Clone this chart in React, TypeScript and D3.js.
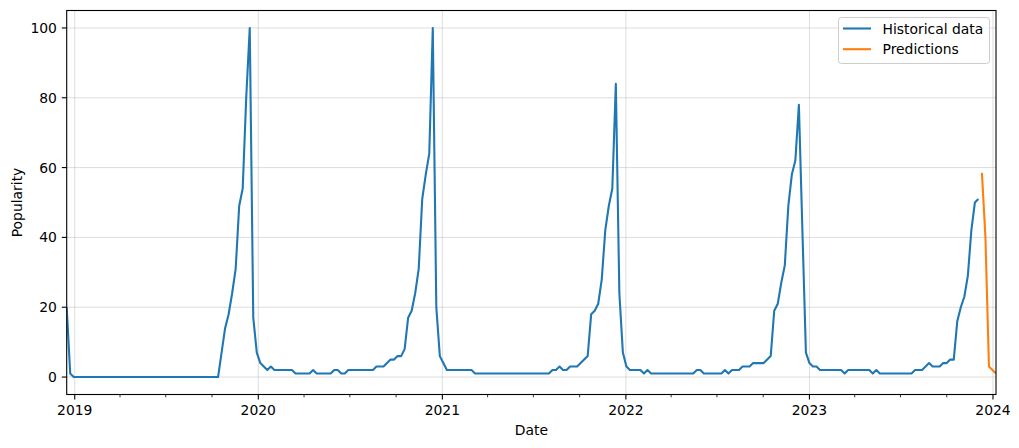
import React from "react";
import * as d3 from "d3";

// Weekly dates start (Sundays)
const START_DATE = "2018-12-16";
const PRED_START = "2023-12-10";

const historical: number[] = [
  20, 1, 0, 0, 0, 0, 0, 0, 0, 0,
  0, 0, 0, 0, 0, 0, 0, 0, 0, 0,
  0, 0, 0, 0, 0, 0, 0, 0, 0, 0,
  0, 0, 0, 0, 0, 0, 0, 0, 0, 0,
  0, 0, 0, 0, 7, 14, 18, 24, 31, 49,
  54, 80, 100, 17, 7, 4, 3, 2, 3, 2,
  2, 2, 2, 2, 2, 1, 1, 1, 1, 1,
  2, 1, 1, 1, 1, 1, 2, 2, 1, 1,
  2, 2, 2, 2, 2, 2, 2, 2, 3, 3,
  3, 4, 5, 5, 6, 6, 8, 17, 19, 24,
  31, 51, 58, 64, 100, 20, 6, 4, 2, 2,
  2, 2, 2, 2, 2, 2, 1, 1, 1, 1,
  1, 1, 1, 1, 1, 1, 1, 1, 1, 1,
  1, 1, 1, 1, 1, 1, 1, 1, 2, 2,
  3, 2, 2, 3, 3, 3, 4, 5, 6, 18,
  19, 21, 28, 42, 49, 54, 84, 24, 7, 3,
  2, 2, 2, 2, 1, 2, 1, 1, 1, 1,
  1, 1, 1, 1, 1, 1, 1, 1, 1, 2,
  2, 1, 1, 1, 1, 1, 1, 2, 1, 2,
  2, 2, 3, 3, 3, 4, 4, 4, 4, 5,
  6, 19, 21, 27, 32, 49, 58, 62, 78, 42,
  7, 4, 3, 3, 2, 2, 2, 2, 2, 2,
  2, 1, 2, 2, 2, 2, 2, 2, 2, 1,
  2, 1, 1, 1, 1, 1, 1, 1, 1, 1,
  1, 2, 2, 2, 3, 4, 3, 3, 3, 4,
  4, 5, 5, 16, 20, 23, 29, 42, 50, 51,
];

const predictions: number[] = [58.5, 40, 3, 2, 1];

const yTicks: number[] = [0, 20, 40, 60, 80, 100];
const xTickYears: number[] = [2019, 2020, 2021, 2022, 2023, 2024];

const seriesNames = ["Historical data", "Predictions"];
const seriesColors = ["#1f77b4", "#ff7f0e"];

const W = 1019;
const H = 448;
const M = { left: 66.7, right: 996, top: 10.5, bottom: 394.5 };
const FONT = "DejaVu Sans, sans-serif";
const FS = 13.9;

export default function App() {
  const parse = d3.timeParse("%Y-%m-%d");
  const start = parse(START_DATE)!;
  const pStart = parse(PRED_START)!;
  const histData = historical.map((v, i) => ({ date: d3.timeWeek.offset(start, i), v }));
  const predData = predictions.map((v, i) => ({ date: d3.timeWeek.offset(pStart, i), v }));

  const x = d3
    .scaleTime()
    .domain([histData[0].date, predData[predData.length - 1].date])
    .range([M.left, M.right]);
  const y = d3.scaleLinear().domain([-5, 105]).range([M.bottom, M.top]);

  const line = d3
    .line<{ date: Date; v: number }>()
    .x((d) => x(d.date))
    .y((d) => y(d.v));

  const majorTicks = xTickYears.map((yr) => new Date(yr, 0, 1));
  const minorTicks = d3
    .timeMonth.every(3)!
    .range(x.domain()[0], x.domain()[1])
    .filter((d) => d.getMonth() !== 0);

  return (
    <svg
      width={W}
      height={H}
      style={{ position: "absolute", left: 0, top: 0, display: "block", background: "#fff" }}
      fontFamily={FONT}
    >
      <defs>
        <clipPath id="plotclip">
          <rect x={M.left} y={M.top} width={M.right - M.left} height={M.bottom - M.top} />
        </clipPath>
      </defs>
      <rect x={0} y={0} width={W} height={H} fill="#fff" />
      {/* grid */}
      <g stroke="#b0b0b0" strokeOpacity={0.55} strokeWidth={0.8}>
        {yTicks.map((t) => (
          <line key={"gy" + t} x1={M.left} x2={M.right} y1={y(t)} y2={y(t)} />
        ))}
        {majorTicks.map((d, i) => (
          <line key={"gx" + i} x1={x(d)} x2={x(d)} y1={M.top} y2={M.bottom} />
        ))}
      </g>
      {/* lines */}
      <g clipPath="url(#plotclip)" fill="none" strokeWidth={2.1} strokeLinejoin="round" strokeLinecap="butt">
        <path d={line(histData) || ""} stroke={seriesColors[0]} />
        <path d={line(predData) || ""} stroke={seriesColors[1]} />
      </g>
      {/* frame */}
      <rect
        x={M.left}
        y={M.top}
        width={M.right - M.left}
        height={M.bottom - M.top}
        fill="none"
        stroke="#000"
        strokeWidth={1.1}
      />
      {/* y ticks */}
      <g>
        {yTicks.map((t) => (
          <g key={"yt" + t}>
            <line x1={M.left - 4.9} x2={M.left} y1={y(t)} y2={y(t)} stroke="#000" strokeWidth={1.1} />
            <text x={M.left - 9.8} y={y(t)} dy="0.36em" textAnchor="end" fontSize={FS} fill="#000">
              {t}
            </text>
          </g>
        ))}
      </g>
      {/* x ticks */}
      <g>
        {majorTicks.map((d, i) => (
          <g key={"xt" + i}>
            <line x1={x(d)} x2={x(d)} y1={M.bottom} y2={M.bottom + 4.9} stroke="#000" strokeWidth={1.1} />
            <text x={x(d)} y={M.bottom + 20.3} textAnchor="middle" fontSize={FS} fill="#000">
              {xTickYears[i]}
            </text>
          </g>
        ))}
        {minorTicks.map((d, i) => (
          <line key={"mt" + i} x1={x(d)} x2={x(d)} y1={M.bottom} y2={M.bottom + 2.8} stroke="#000" strokeWidth={0.8} />
        ))}
      </g>
      {/* axis labels */}
      <text x={(M.left + M.right) / 2} y={435} textAnchor="middle" fontSize={FS} fill="#000">
        Date
      </text>
      <text
        transform={`translate(22,${(M.top + M.bottom) / 2}) rotate(-90)`}
        textAnchor="middle"
        fontSize={FS}
        fill="#000"
      >
        Popularity
      </text>
      {/* legend */}
      <g>
        <rect x={838.5} y={17.5} width={151} height={46} rx={3} fill="#fff" fillOpacity={0.8} stroke="#cccccc" strokeWidth={1} />
        {seriesNames.map((name, i) => (
          <g key={name}>
            <line x1={843} x2={871} y1={28.5 + i * 20.7} y2={28.5 + i * 20.7} stroke={seriesColors[i]} strokeWidth={2.1} />
            <text x={882.5} y={28.5 + i * 20.7} dy="0.36em" fontSize={FS} fill="#000">
              {name}
            </text>
          </g>
        ))}
      </g>
    </svg>
  );
}
